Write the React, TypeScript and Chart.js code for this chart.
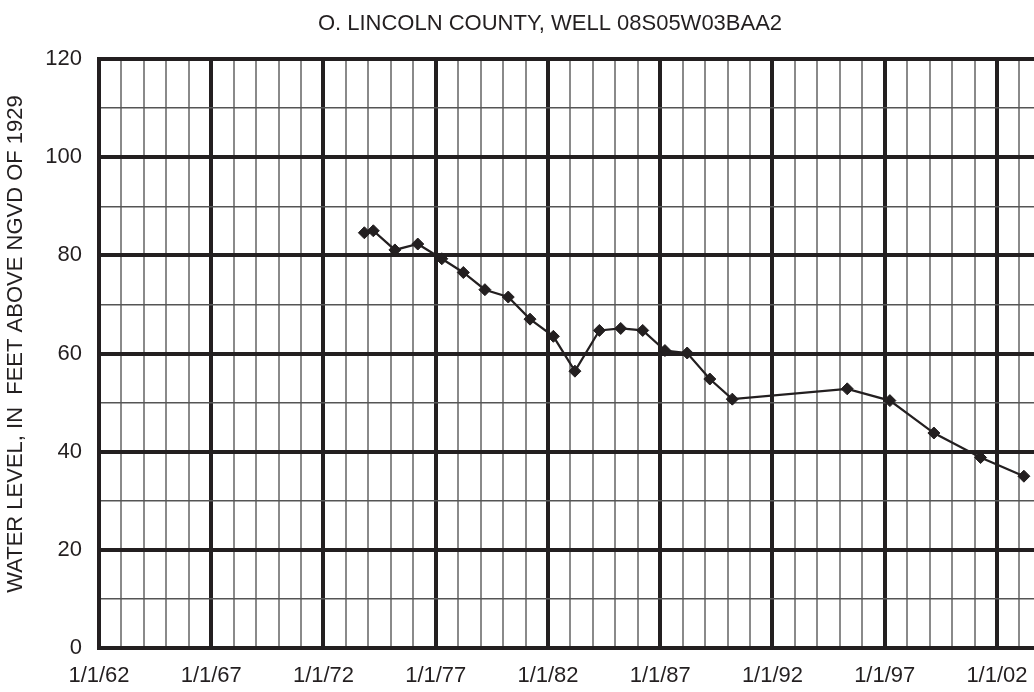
import React, { useEffect, useRef } from "react";
import { Chart, registerables } from "chart.js";

Chart.register(...registerables);

const chartTitle = "O. LINCOLN COUNTY, WELL 08S05W03BAA2";
const yAxisTitle = "WATER LEVEL, IN  FEET ABOVE NGVD OF 1929";

// measurement dates as decimal years
const measureYears = [
  1973.82, 1974.22, 1975.18, 1976.2, 1977.27, 1978.23, 1979.19, 1980.23,
  1981.2, 1982.24, 1983.2, 1984.29, 1985.24, 1986.22, 1987.21, 1988.2,
  1989.21, 1990.21, 1995.33, 1997.23, 1999.19, 2001.27, 2003.2,
];
// water level, feet above NGVD of 1929
const waterLevels = [
  84.6, 85.0, 81.1, 82.3, 79.3, 76.5, 73.0, 71.5, 67.0, 63.5, 56.4, 64.7,
  65.1, 64.7, 60.6, 60.1, 54.8, 50.7, 52.8, 50.4, 43.8, 38.8, 35.0,
];

const xStartYear = 1962;
const xEndYear = 2003.65;
const xTickLabels = [
  "1/1/62", "1/1/67", "1/1/72", "1/1/77", "1/1/82",
  "1/1/87", "1/1/92", "1/1/97", "1/1/02",
];
const yTickLabels = ["0", "20", "40", "60", "80", "100", "120"];

const INK = "#231f20";
const FONT = "'Liberation Sans', Arial, Helvetica, sans-serif";

const titlesPlugin = {
  id: "titlesPlugin",
  afterDraw(chart: any) {
    const ctx = chart.ctx;
    ctx.save();
    ctx.fillStyle = INK;
    ctx.textAlign = "center";
    ctx.textBaseline = "middle";
    ctx.font = `22px ${FONT}`;
    ctx.fillText(chartTitle, 550, 24);
    ctx.translate(16, 344);
    ctx.rotate(-Math.PI / 2);
    ctx.fillText(yAxisTitle, 0, 0);
    ctx.restore();
  },
};

export default function App() {
  const ref = useRef<HTMLCanvasElement | null>(null);

  useEffect(() => {
    if (!ref.current) return;
    Chart.defaults.font.family = FONT;
    Chart.defaults.color = INK;

    const isMajorX = (v: number) => Math.abs((v - xStartYear) % 5) < 1e-6;
    const isMajorY = (v: number) => Math.abs(v % 20) < 1e-6;

    const chart = new Chart(ref.current, {
      type: "line",
      data: {
        datasets: [
          {
            data: measureYears.map((x, i) => ({ x, y: waterLevels[i] })),
            borderColor: INK,
            borderWidth: 2.2,
            backgroundColor: INK,
            pointStyle: "rectRot",
            pointRadius: 6,
            pointBorderWidth: 1,
            pointBackgroundColor: INK,
            pointBorderColor: INK,
            tension: 0,
            clip: 10,
          },
        ],
      },
      options: {
        animation: false,
        responsive: true,
        maintainAspectRatio: false,
        layout: { autoPadding: false, padding: { left: 0, right: 0, top: 59, bottom: 0 } },
        plugins: {
          legend: { display: false },
          tooltip: { enabled: false },
          title: { display: false },
        },
        scales: {
          x: {
            type: "linear",
            min: xStartYear,
            max: xEndYear,
            afterBuildTicks: (scale: any) => {
              const t = [];
              for (let y = xStartYear; y <= Math.floor(xEndYear); y++) t.push({ value: y });
              scale.ticks = t;
            },
            afterFit: (scale: any) => {
              scale.height = 44;
              scale.paddingRight = 0;
              scale.paddingLeft = 0;
            },
            ticks: {
              autoSkip: false,
              maxRotation: 0,
              padding: 15,
              color: INK,
              font: { size: 22 },
              callback: (v: any) => {
                const n = Number(v);
                if (!isMajorX(n)) return "";
                return xTickLabels[Math.round((n - xStartYear) / 5)] ?? "";
              },
            },
            grid: {
              drawTicks: false,
              color: (ctx: any) => (isMajorX(ctx.tick.value) ? INK : "#8a8a8a"),
              lineWidth: (ctx: any) => (isMajorX(ctx.tick.value) ? 4 : 2),
            },
            border: { display: true, color: INK, width: 4 },
          },
          y: {
            min: 0,
            max: 120,
            afterFit: (scale: any) => {
              scale.width = 99;
            },
            ticks: {
              stepSize: 10,
              padding: 17,
              color: INK,
              font: { size: 22 },
              callback: (v: any) => {
                const n = Number(v);
                return isMajorY(n) ? yTickLabels[Math.round(n / 20)] : "";
              },
            },
            grid: {
              drawTicks: false,
              color: (ctx: any) => (isMajorY(ctx.tick.value) ? INK : "#555555"),
              lineWidth: (ctx: any) => (isMajorY(ctx.tick.value) ? 4 : 1.5),
            },
            border: { display: true, color: INK, width: 4 },
          },
        },
      },
      plugins: [titlesPlugin],
    });
    return () => chart.destroy();
  }, []);

  return (
    <div
      style={{
        position: "fixed",
        left: 0,
        top: 0,
        width: 1034,
        height: 692,
        background: "#ffffff",
      }}
    >
      <canvas ref={ref} />
    </div>
  );
}
